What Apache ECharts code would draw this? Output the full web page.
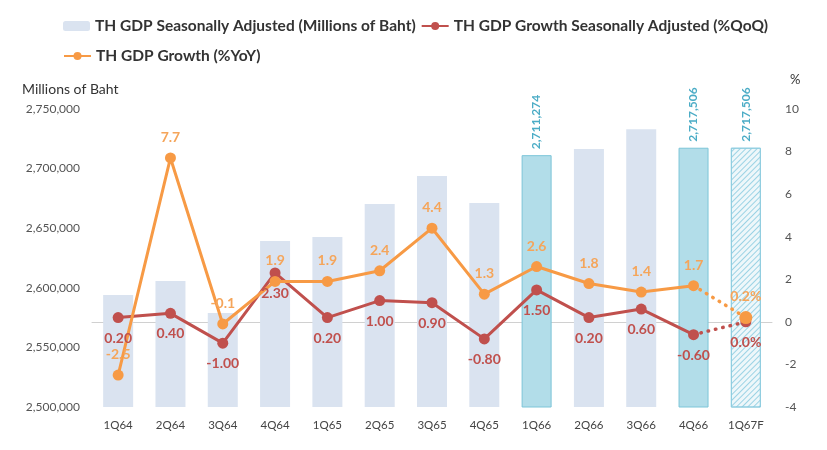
<!DOCTYPE html>
<html>
<head>
<meta charset="utf-8">
<script src="https://cdn.jsdelivr.net/npm/echarts@6/dist/echarts.min.js"></script>
<style>
  html, body { margin: 0; padding: 0; background: #fff; }
  #chart { width: 827px; height: 450px; }
</style>
</head>
<body>
<div id="chart"></div>
<script>
  const quarters = ['1Q64', '2Q64', '3Q64', '4Q64', '1Q65', '2Q65', '3Q65', '4Q65', '1Q66', '2Q66', '3Q66', '4Q66', '1Q67F'];
  const gdpSa = [2594000, 2605700, 2578900, 2639300, 2642600, 2670300, 2693800, 2671100, 2711274, 2716500, 2733000, 2717506, 2717506];
  const qoqGrowth = [0.2, 0.4, -1.0, 2.3, 0.2, 1.0, 0.9, -0.8, 1.5, 0.2, 0.6, -0.6];
  const qoqForecast = 0.0;
  const yoyGrowth = [-2.5, 7.7, -0.1, 1.9, 1.9, 2.4, 4.4, 1.3, 2.6, 1.8, 1.4, 1.7];
  const yoyForecast = 0.2;
  const highlightBars = [8, 11];
  const forecastBar = 12;

  const nameBar = 'TH GDP Seasonally Adjusted (Millions of Baht)';
  const nameQoq = 'TH GDP Growth Seasonally Adjusted (%QoQ)';
  const nameYoy = 'TH GDP Growth (%YoY)';

  const font = 'Lato, "Open Sans", sans-serif';
  const red = '#c0504d';
  const orange = '#f79a45';
  const teal = '#4bacc6';

  const chart = echarts.init(document.getElementById('chart'), null, { renderer: 'canvas' });

  function barItem(value, i) {
    const item = { value };
    if (highlightBars.includes(i)) {
      item.itemStyle = { color: '#b2dde9', borderColor: '#7cc5d8', borderWidth: 1 };
      item.label = { show: true };
    } else if (i === forecastBar) {
      item.itemStyle = {
        color: '#eef7fa',
        borderColor: '#8fcde0',
        borderWidth: 1,
        decal: {
          symbol: 'rect',
          symbolSize: 1,
          dashArrayX: [1, 0],
          dashArrayY: [1, 3],
          rotation: -Math.PI / 4,
          color: 'rgba(120, 195, 220, 0.7)'
        }
      };
      item.label = { show: true };
    }
    return item;
  }

  function solid(values) {
    return values.concat(['-']);
  }

  function dotted(values, last) {
    const data = values.map(() => '-');
    data[data.length - 1] = { value: values[values.length - 1], symbol: 'none', label: { show: false } };
    data.push(last);
    return data;
  }

  const dotLine = (color) => ({ color, width: 3.5, type: [0.5, 7], cap: 'round' });

  const legendText = { fontSize: 15.5, fontWeight: 'bold', color: '#333', fontFamily: font };

  chart.setOption({
    animation: false,
    backgroundColor: '#fff',
    textStyle: { fontFamily: font },
    title: [
      { text: 'Millions of Baht', left: 17, top: 77, textStyle: { fontSize: 14, fontWeight: 'normal', color: '#333', fontFamily: font } },
      { text: '%', left: 785, top: 68, textStyle: { fontSize: 13, fontWeight: 'normal', color: '#333', fontFamily: font } }
    ],
    legend: [
      {
        left: 58, top: 13, itemGap: 5, itemWidth: 27, itemHeight: 10,
        data: [nameBar, nameQoq],
        textStyle: legendText
      },
      {
        left: 58, top: 43, itemGap: 5, itemWidth: 27, itemHeight: 10,
        data: [nameYoy],
        textStyle: legendText
      }
    ],
    grid: { left: 92, right: 55, top: 109, bottom: 43, containLabel: false },
    xAxis: {
      type: 'category',
      data: quarters,
      axisTick: { show: false },
      axisLine: { lineStyle: { color: '#d0d0d0', width: 1 } },
      axisLabel: { color: '#444', fontSize: 11.5, margin: 12 }
    },
    yAxis: [
      {
        type: 'value',
        min: 2500000,
        max: 2750000,
        interval: 50000,
        splitLine: { show: false },
        axisLine: { show: false },
        axisTick: { show: false },
        axisLabel: {
          color: '#555', fontSize: 12, margin: 12,
          formatter: (v) => v.toLocaleString('en-US')
        }
      },
      {
        type: 'value',
        position: 'right',
        min: -4,
        max: 10,
        interval: 2,
        splitLine: { show: false },
        axisLine: { show: false },
        axisTick: { show: false },
        axisLabel: { color: '#555', fontSize: 12, margin: 13, align: 'left' }
      }
    ],
    series: [
      {
        name: nameBar,
        type: 'bar',
        yAxisIndex: 0,
        barWidth: 30,
        itemStyle: { color: '#dae3f0' },
        label: {
          show: false,
          position: 'top',
          rotate: 90,
          align: 'left',
          verticalAlign: 'middle',
          distance: 6,
          color: teal,
          fontSize: 12,
          fontWeight: 'bold',
          formatter: (p) => p.value.toLocaleString('en-US')
        },
        data: gdpSa.map(barItem)
      },
      {
        name: nameQoq,
        type: 'line',
        yAxisIndex: 1,
        symbol: 'circle',
        symbolSize: 11,
        itemStyle: { color: red },
        lineStyle: { color: red, width: 3 },
        label: {
          show: true, position: 'bottom', distance: 8,
          color: red, fontSize: 14, fontWeight: 'bold',
          formatter: (p) => p.value.toFixed(2)
        },
        data: solid(qoqGrowth)
      },
      {
        name: 'qoqForecast',
        type: 'line',
        yAxisIndex: 1,
        symbol: 'circle',
        symbolSize: 11,
        itemStyle: { color: red },
        lineStyle: dotLine(red),
        label: {
          show: true, position: 'bottom', distance: 8,
          color: red, fontSize: 14, fontWeight: 'bold',
          formatter: (p) => p.value.toFixed(1) + '%'
        },
        data: dotted(qoqGrowth, qoqForecast)
      },
      {
        name: nameYoy,
        type: 'line',
        yAxisIndex: 1,
        symbol: 'circle',
        symbolSize: 11,
        itemStyle: { color: orange },
        lineStyle: { color: orange, width: 3 },
        label: {
          show: true, position: 'top', distance: 8,
          color: '#f5a55a', fontSize: 14, fontWeight: 'bold',
          formatter: (p) => p.value.toFixed(1)
        },
        data: solid(yoyGrowth)
      },
      {
        name: 'yoyForecast',
        type: 'line',
        yAxisIndex: 1,
        symbol: 'circle',
        symbolSize: 13,
        itemStyle: { color: orange },
        lineStyle: dotLine(orange),
        label: {
          show: true, position: 'top', distance: 8,
          color: '#f5a55a', fontSize: 14, fontWeight: 'bold',
          formatter: (p) => p.value.toFixed(1) + '%'
        },
        data: dotted(yoyGrowth, yoyForecast)
      }
    ]
  });
</script>
</body>
</html>
